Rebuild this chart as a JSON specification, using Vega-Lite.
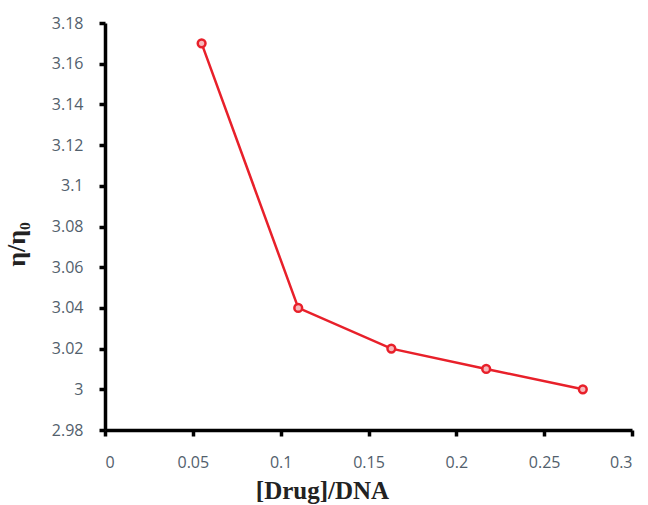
{
  "$schema": "https://vega.github.io/schema/vega-lite/v6.json",
  "width": 527,
  "height": 407,
  "autosize": "none",
  "padding": {"left": 105, "top": 23, "right": 16, "bottom": 75},
  "background": "white",
  "config": {
    "view": {"stroke": null},
    "axis": {"domainColor": "#000000", "domainWidth": 3.5, "domainOpacity": 1, "tickColor": "#000000", "tickWidth": 3.5, "tickOpacity": 1, "tickSize": 6, "grid": false}
  },
  "data": {"values": [
    {"ratio": 0.055, "visc": 3.17},
    {"ratio": 0.11, "visc": 3.04},
    {"ratio": 0.163, "visc": 3.02},
    {"ratio": 0.217, "visc": 3.01},
    {"ratio": 0.272, "visc": 3.0}
  ]},
  "encoding": {
    "x": {"field": "ratio", "type": "quantitative",
      "scale": {"domain": [0, 0.3], "nice": false, "zero": false},
      "axis": {"values": [0, 0.05, 0.1, 0.15, 0.2, 0.25, 0.3], "format": "~g",
        "domainColor": "#000000", "domainWidth": 3.5, "tickColor": "#000000", "tickWidth": 3.5,
        "labelColor": "#52606c", "labelFont": "Open Sans", "labelFontSize": 16, "labelPadding": 18,
        "title": "[Drug]/DNA", "titleFont": "Liberation Serif", "titleFontSize": 25, "titleFontWeight": "bold",
        "titleColor": "#222", "titleX": 217, "titleY": 68, "titleBaseline": "alphabetic", "titleAnchor": "middle"}},
    "y": {"field": "visc", "type": "quantitative",
      "scale": {"domain": [2.98, 3.18], "nice": false, "zero": false},
      "axis": {"values": [2.98, 3.0, 3.02, 3.04, 3.06, 3.08, 3.1, 3.12, 3.14, 3.16, 3.18], "format": "~g",
        "domainColor": "#000000", "domainWidth": 3.5, "tickColor": "#000000", "tickWidth": 3.5,
        "labelColor": "#52606c", "labelFont": "Open Sans", "labelFontSize": 16, "labelPadding": 16,
        "title": "η/η₀", "titleFont": "Liberation Serif", "titleFontSize": 26, "titleFontWeight": "bold",
        "titleColor": "#222", "titleX": -76, "titleY": 221, "titleAnchor": "middle"}}
  },
  "layer": [
    {"mark": {"type": "line", "color": "#e8202a", "strokeWidth": 2.5}},
    {"mark": {"type": "point", "shape": "circle", "size": 60, "filled": false, "stroke": "#e8202a", "strokeWidth": 2.5, "fill": "#f6b8bb", "fillOpacity": 1}}
  ]
}
